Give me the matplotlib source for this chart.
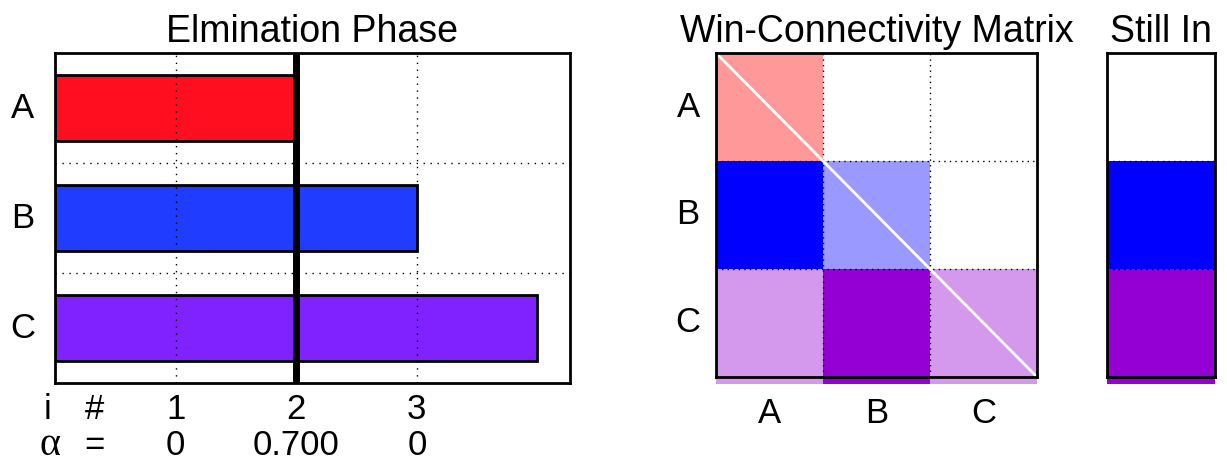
import numpy as np
import matplotlib.pyplot as plt
from matplotlib.colors import to_rgb

plt.rcParams['font.family'] = ['Liberation Sans', 'DejaVu Sans']

# === Data ===
candidates = ["A", "B", "C"]
votes = [2, 3, 4]
threshold = 2
bar_colors = ["#ff0e1f", "#1f3cff", "#7f22ff"]
round_idx = ["1", "2", "3"]
alpha_vals = ["0", "0.700", "0"]

# win-connectivity: 1 = full colour, 0.4 = faded, 0 = white (row = candidate colour)
matrix_colors = ["#ff0000", "#0000ff", "#9400d3"]
win_matrix = [[0.4, 0.0, 0.0],
              [1.0, 0.4, 0.0],
              [0.4, 1.0, 0.4]]
still_in = [0, 1, 1]

W, H = 1227, 466
fig = plt.figure(figsize=(W / 100, H / 100), dpi=100)

TITLE_FS = 27
LABEL_FS = 25


def px_axes(x0, y0, x1, y1):
    return fig.add_axes([x0 / W, 1 - y1 / H, (x1 - x0) / W, (y1 - y0) / H])


def blend(c, a):
    c = np.array(to_rgb(c))
    return tuple(a * c + (1 - a) * np.ones(3))


def frame(ax):
    for s in ax.spines.values():
        s.set_linewidth(2)
        s.set_color("black")
    ax.tick_params(length=0, labelbottom=False, labelleft=False)


# === Elimination phase ===
ax = px_axes(55, 53, 570, 383)
y = np.arange(1, len(candidates) + 1)
ax.barh(y, votes, height=0.6, color=bar_colors, edgecolor="black", linewidth=2, zorder=2)
ax.axvline(threshold, color="black", linewidth=5, zorder=3)
ax.set_xlim(0, 4.27)
ax.set_ylim(3.5, 0.5)
for gx in [1, 2, 3]:
    ax.axvline(gx, color="black", linestyle=(0, (1, 4)), linewidth=1, zorder=3)
for gy in [1.5, 2.5]:
    ax.axhline(gy, color="black", linestyle=(0, (1, 4)), linewidth=1, zorder=1)
frame(ax)
ax.set_title("Elmination Phase", fontsize=TITLE_FS, pad=8)
for yi, lab in zip(y, candidates):
    ax.text(-0.27, yi, lab, fontsize=LABEL_FS, ha="center", va="center")
trans = ax.get_xaxis_transform()
ax.text(-0.06, -0.08, "i", fontsize=LABEL_FS, ha="center", va="center", transform=trans)
ax.text(0.33, -0.08, "#", fontsize=LABEL_FS, ha="center", va="center", transform=trans)
ax.text(-0.04, -0.218, "α", fontsize=29, ha="center", va="baseline", transform=trans,
        family=["Liberation Serif", "DejaVu Serif"])
ax.text(0.33, -0.19, "=", fontsize=LABEL_FS, ha="center", va="center", transform=trans)
for xi, (ri, av) in enumerate(zip(round_idx, alpha_vals), start=1):
    ax.text(xi, -0.08, ri, fontsize=LABEL_FS, ha="center", va="center", transform=trans)
    ax.text(xi, -0.19, av, fontsize=LABEL_FS, ha="center", va="center", transform=trans)

# === Win-connectivity matrix ===
axm = px_axes(716, 53, 1037, 377)
n = len(candidates)
for r in range(n):
    for c in range(n):
        axm.add_patch(plt.Rectangle((c, r), 1, 1, color=blend(matrix_colors[r], win_matrix[r][c]),
                                    linewidth=0, zorder=0))
# strip below the matrix repeating the last row
for c in range(n):
    axm.add_patch(plt.Rectangle((c, n), 1, 0.065, color=blend(matrix_colors[-1], win_matrix[-1][c]),
                                linewidth=0, clip_on=False, zorder=0))
axm.plot([0, n], [0, n], color="white", linewidth=2, zorder=2)
for g in [1, 2]:
    axm.axvline(g, color="black", linestyle=(0, (1, 3)), linewidth=1, zorder=1)
    axm.axhline(g, color="black", linestyle=(0, (1, 3)), linewidth=1, zorder=1)
axm.set_xlim(0, n)
axm.set_ylim(n, 0)
frame(axm)
axm.set_title("Win-Connectivity Matrix", fontsize=TITLE_FS, pad=8)
for i, lab in enumerate(candidates):
    axm.text(-0.26, i + 0.5, lab, fontsize=LABEL_FS, ha="center", va="center")
    axm.text(i + 0.5, n + 0.34, lab, fontsize=LABEL_FS, ha="center", va="center")

# === Still in ===
axs = px_axes(1107, 53, 1215, 377)
for r in range(n):
    axs.add_patch(plt.Rectangle((0, r), 1, 1, color=blend(matrix_colors[r], still_in[r]),
                                linewidth=0, zorder=0))
axs.add_patch(plt.Rectangle((0, n), 1, 0.065, color=blend(matrix_colors[-1], still_in[-1]),
                            linewidth=0, clip_on=False, zorder=0))
for g in [1, 2]:
    axs.axhline(g, color="black", linestyle=(0, (1, 3)), linewidth=1, zorder=1)
axs.set_xlim(0, 1)
axs.set_ylim(n, 0)
frame(axs)
axs.set_title("Still In", fontsize=TITLE_FS, pad=8)

fig.savefig("out.png", dpi=100)
